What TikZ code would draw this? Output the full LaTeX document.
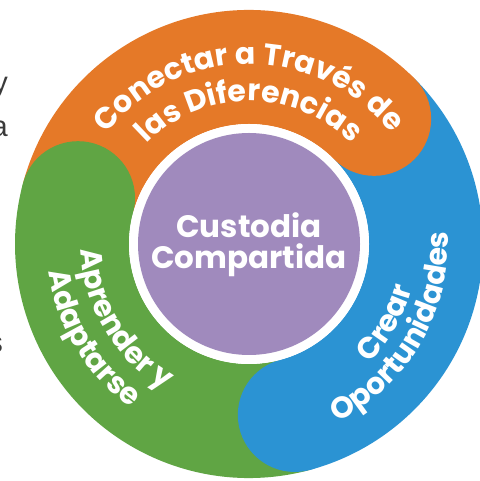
\documentclass[tikz,border=0pt]{standalone}
\usepackage{fontspec}
\setmainfont{Poppins}
\newfontfamily\sidefont{Liberation Sans}
\usetikzlibrary{decorations.text}
\definecolor{corange}{RGB}{229,121,40}
\definecolor{cblue}{RGB}{43,147,211}
\definecolor{cgreen}{RGB}{96,165,68}
\definecolor{cpurple}{RGB}{160,138,189}
\definecolor{cside}{RGB}{58,58,58}
\newcommand\bandfont{\bfseries\fontsize{30}{34}\selectfont}
\newcommand\midfont{\bfseries\fontsize{31}{31}\selectfont}
\tikzset{
  bandtext/.style={decorate, decoration={text along path, text align=center, text color=white}},
  sidetext/.style={anchor=base east, inner sep=0pt, text=cside, font=\sidefont\fontsize{29}{34}\selectfont}
}
\begin{document}
\begin{tikzpicture}[x=1pt,y=1pt]
\useasboundingbox (0,0) rectangle (479,481);
\fill[white] (0,0) rectangle (479,481);
\coordinate (C) at (249,237);
\def\rIn{120}
\def\rOut{234}
\def\rMid{177}
\def\rCap{57}
% band sectors
\fill[corange] ([shift={(165:\rOut)}]C) arc[start angle=165,end angle=45,radius=\rOut]
  -- ([shift={(45:\rIn)}]C) arc[start angle=45,end angle=165,radius=\rIn] -- cycle;
\fill[cblue] ([shift={(45:\rOut)}]C) arc[start angle=45,end angle=-75,radius=\rOut]
  -- ([shift={(-75:\rIn)}]C) arc[start angle=-75,end angle=45,radius=\rIn] -- cycle;
\fill[cgreen] ([shift={(-75:\rOut)}]C) arc[start angle=-75,end angle=-195,radius=\rOut]
  -- ([shift={(-195:\rIn)}]C) arc[start angle=-195,end angle=-75,radius=\rIn] -- cycle;
% rounded caps
\fill[corange] ([shift={(45:\rMid)}]C) circle[radius=\rCap];
\fill[cblue] ([shift={(-75:\rMid)}]C) circle[radius=\rCap];
\fill[cgreen] ([shift={(165:\rMid)}]C) circle[radius=\rCap];
% centre
\fill[white] (C) circle[radius=\rIn];
\fill[cpurple] (C) circle[radius=111];
\node[text=white, font=\midfont, align=center, inner sep=0pt] (centre) at ([yshift=-1]C) {Custodia\\Compartida};
% band texts
\path[bandtext, decoration={text={|\bandfont|Conectar a Través de}}]
  ([shift={(165:180)}]C) arc[start angle=165,end angle=15,radius=180];
\path[bandtext, decoration={text={|\bandfont|las Diferencias}}]
  ([shift={(165:143)}]C) arc[start angle=165,end angle=15,radius=143];
\path[bandtext, decoration={text={|\bandfont|Crear}}]
  ([shift={(255:169)}]C) arc[start angle=255,end angle=405,radius=169];
\path[bandtext, decoration={text={|\bandfont|Oportunidades}}]
  ([shift={(255:199)}]C) arc[start angle=255,end angle=405,radius=199];
\path[bandtext, decoration={text={|\bandfont|Aprender y}}]
  ([shift={(136:168)}]C) arc[start angle=136,end angle=286,radius=168];
\path[bandtext, decoration={text={|\bandfont|Adaptarse}}]
  ([shift={(136:202)}]C) arc[start angle=136,end angle=286,radius=202];
% cut-off side text
\node[sidetext] (s1) at (8,388) {y};
\node[sidetext] (s2) at (8,344) {a};
\node[sidetext] (s3) at (3,128) {s};
\end{tikzpicture}
\end{document}
